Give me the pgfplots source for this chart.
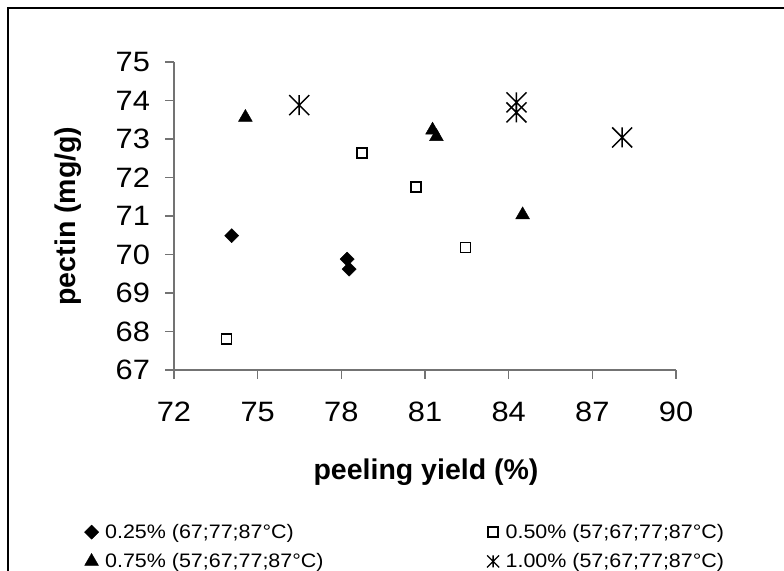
\documentclass[border=0pt]{standalone}
\usepackage{fontspec}
\setmainfont{Liberation Sans}
\newfontfamily\tickfont[FakeStretch=1.1]{Liberation Sans}
\newfontfamily\legfont[FakeStretch=1.1]{Liberation Sans}
\newcommand\tl{\tickfont\fontsize{28bp}{31bp}\selectfont}
\usepackage{pgfplots}
\pgfplotsset{compat=1.18}
\pgfdeclareplotmark{xstar}{%
  \pgfpathmoveto{\pgfqpoint{-\pgfplotmarksize}{-\pgfplotmarksize}}%
  \pgfpathlineto{\pgfqpoint{\pgfplotmarksize}{\pgfplotmarksize}}%
  \pgfpathmoveto{\pgfqpoint{-\pgfplotmarksize}{\pgfplotmarksize}}%
  \pgfpathlineto{\pgfqpoint{\pgfplotmarksize}{-\pgfplotmarksize}}%
  \pgfpathmoveto{\pgfqpoint{0pt}{-\pgfplotmarksize}}%
  \pgfpathlineto{\pgfqpoint{0pt}{\pgfplotmarksize}}%
  \pgfusepathqstroke}
\begin{document}
\begin{tikzpicture}[x=1bp,y=1bp]
\path[use as bounding box] (0,0) rectangle (784,571);
\draw[line width=1.4bp] (8,0) -- (8,563) -- (784,563);
\begin{axis}[
  at={(174bp,201bp)}, anchor=south west,
  scale only axis, width=502bp, height=308bp,
  xmin=72, xmax=90, ymin=67, ymax=75,
  xtick={72,75,78,81,84,87,90}, ytick={67,68,69,70,71,72,73,74,75},
  xticklabels={{\tl 72},{\tl 75},{\tl 78},{\tl 81},{\tl 84},{\tl 87},{\tl 90}},
  yticklabels={{\tl 67},{\tl 68},{\tl 69},{\tl 70},{\tl 71},{\tl 72},{\tl 73},{\tl 74},{\tl 75}},
  axis x line*=bottom, axis y line*=left,
  axis line style={draw=black!55, line width=1.1bp},
  every tick/.style={draw=black!55, line width=1.1bp},
  tick align=outside, major tick length=9bp,
  tick label style={inner sep=0pt, outer sep=0pt},
  xticklabel style={anchor=base, yshift=-43bp},
  yticklabel style={anchor=east, xshift=-15bp},
  xlabel={peeling yield (\%)},
  ylabel={pectin (mg/g)},
  every axis x label/.style={at={(axis description cs:0.502,-0.331)}, anchor=center,
    font=\bfseries\fontsize{28.5bp}{32bp}\selectfont},
  every axis y label/.style={at={(axis description cs:-0.211,0.5)}, anchor=center, rotate=90,
    font=\bfseries\fontsize{28.5bp}{32bp}\selectfont},
  legend columns=2,
  legend cell align=left,
  legend style={draw=none, fill=none, inner sep=0pt, outer sep=0pt,
    at={(axis description cs:-0.1783,-0.501)}, anchor=north west,
    nodes={inner sep=0pt, outer sep=0pt, font=\legfont\fontsize{19.5bp}{22bp}\selectfont},
    row sep=13.5bp,
    /tikz/every odd column/.append style={column sep=6.5bp}},
]
\addplot[only marks, mark=square*, mark size=5bp, mark options={rotate=45, fill=black, draw=black}]
  coordinates {(74.07,70.49) (78.21,69.88) (78.28,69.62)};
\addlegendentry{\makebox[382bp][l]{0.25\% (67;77;87°C)}}
\addplot[only marks, mark=square, mark size=5bp, mark options={draw=black, fill=white, line width=1.5bp}]
  coordinates {(73.89,67.81) (78.74,72.63) (80.67,71.75) (82.45,70.18)};
\addlegendentry{0.50\% (57;67;77;87°C)}
\addplot[only marks, mark=triangle*, mark size=8bp, mark options={fill=black, draw=black}]
  coordinates {(74.56,73.56) (81.27,73.23) (81.41,73.06) (84.50,71.03)};
\addlegendentry{\makebox[382bp][l]{0.75\% (57;67;77;87°C)}}
\addplot[only marks, mark=xstar, mark size=10bp, mark options={draw=black, line width=1.5bp}, forget plot]
  coordinates {(76.49,73.88) (84.28,73.95) (84.28,73.69) (88.07,73.04)};
\addlegendimage{only marks, mark=xstar, mark size=6bp, mark options={draw=black, line width=1.3bp}}
\addlegendentry{1.00\% (57;67;77;87°C)}
\end{axis}
\end{tikzpicture}
\end{document}
